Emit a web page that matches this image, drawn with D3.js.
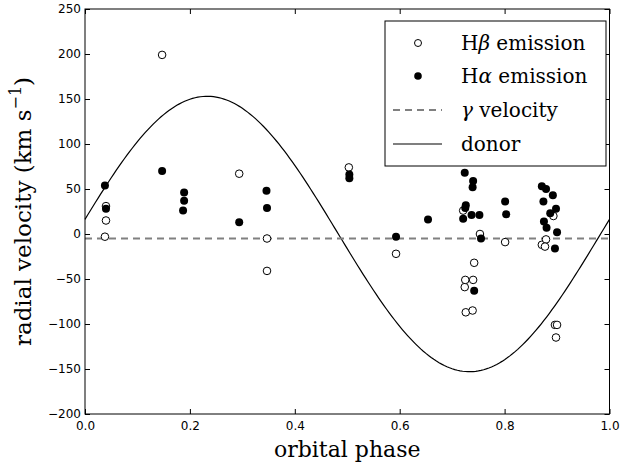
<!DOCTYPE html>
<html>
<head>
<meta charset="utf-8">
<script src="https://cdn.jsdelivr.net/npm/d3@7"></script>
<style>
  body { margin: 0; background: #fff; }
  .tick text { font-family: "DejaVu Sans", sans-serif; font-size: 12px; fill: #000; }
  .serif { font-family: "DejaVu Serif", "Liberation Serif", serif; }
</style>
</head>
<body>
<script>
// H-beta emission measurements: [phase, velocity km/s]
var hbPhase = [0.038, 0.040, 0.040, 0.147, 0.294, 0.347, 0.347, 0.503, 0.593,
  0.721, 0.724, 0.725, 0.740, 0.742, 0.726, 0.739, 0.753, 0.801,
  0.871, 0.879, 0.877, 0.893, 0.896, 0.900, 0.898]
var hbVel = [-3, 15, 31, 199, 67, -5, -41, 74, -22,
  26, -59, -51, -51, -32, -87, -85, 0, -9,
  -12, -6, -14, 20, -101, -101, -115]

// H-alpha emission measurements
var haPhase = [0.038, 0.040, 0.147, 0.189, 0.189, 0.187, 0.294, 0.346, 0.347,
  0.504, 0.504, 0.593, 0.654,
  0.724, 0.740, 0.739, 0.726, 0.725, 0.721, 0.737, 0.752, 0.755, 0.742,
  0.801, 0.803,
  0.871, 0.879, 0.892, 0.874, 0.898, 0.887, 0.875, 0.880, 0.900, 0.896]
var haVel = [54, 28, 70, 46, 37, 26, 13, 48, 29,
  66, 62, -3, 16,
  68, 59, 52, 32, 29, 17, 21, 21, -5, -63,
  36, 22,
  53, 50, 43, 36, 28, 23, 14, 7, 2, -16]

// systemic velocity (dashed) and donor orbit parameters
var gammaVel = -5
var donorK = 153
var donorOffset = 0
var donorPhase0 = -0.017

var xTicks = [0, 0.2, 0.4, 0.6, 0.8, 1.0]
var yTicks = [-200, -150, -100, -50, 0, 50, 100, 150, 200, 250]

var width = 621
var height = 465
var margin = {left: 85, top: 9, right: 11.5, bottom: 51}
var w = width - margin.left - margin.right
var h = height - margin.top - margin.bottom

var svg = d3.select("body")
  .append("svg")
    .attr("width", width)
    .attr("height", height)

var g = svg.append("g")
  .attr("transform", "translate(" + margin.left + "," + margin.top + ")")

var x = d3.scaleLinear().domain([0, 1]).range([0, w])
var y = d3.scaleLinear().domain([-200, 250]).range([h, 0])

// donor curve
var donorPts = d3.range(0, 1.0001, 0.005).map(function(p) {
  return [p, donorOffset + donorK * Math.sin(2 * Math.PI * (p - donorPhase0))]
})

g.append("path")
  .datum(donorPts)
  .attr("fill", "none")
  .attr("stroke", "#000")
  .attr("stroke-width", 1.2)
  .attr("d", d3.line().x(function(d){ return x(d[0]) }).y(function(d){ return y(d[1]) }))

// gamma velocity
g.append("line")
  .attr("x1", x(0)).attr("x2", x(1))
  .attr("y1", y(gammaVel)).attr("y2", y(gammaVel))
  .attr("stroke", "#808080")
  .attr("stroke-width", 2)
  .attr("stroke-dasharray", "7,5")

var ha = haPhase.map(function(p, i){ return [p, haVel[i]] })
var hb = hbPhase.map(function(p, i){ return [p, hbVel[i]] })

g.selectAll(".hb")
  .data(hb)
  .enter()
  .append("circle")
    .attr("class", "hb")
    .attr("cx", function(d){ return x(d[0]) })
    .attr("cy", function(d){ return y(d[1]) })
    .attr("r", 3.8)
    .attr("fill", "#fff")
    .attr("stroke", "#000")
    .attr("stroke-width", 1)

g.selectAll(".ha")
  .data(ha)
  .enter()
  .append("circle")
    .attr("class", "ha")
    .attr("cx", function(d){ return x(d[0]) })
    .attr("cy", function(d){ return y(d[1]) })
    .attr("r", 4)
    .attr("fill", "#000")

// axes, ticks inside on all four sides
var fmtX = d3.format(".1f")
g.append("g")
  .attr("transform", "translate(0," + h + ")")
  .call(d3.axisBottom(x).tickValues(xTicks).tickFormat(fmtX).tickSizeInner(-5).tickSizeOuter(0).tickPadding(7))
g.append("g")
  .call(d3.axisTop(x).tickValues(xTicks).tickFormat("").tickSizeInner(-5).tickSizeOuter(0))
g.append("g")
  .call(d3.axisLeft(y).tickValues(yTicks).tickSizeInner(-5).tickSizeOuter(0).tickPadding(4))
g.append("g")
  .attr("transform", "translate(" + w + ",0)")
  .call(d3.axisRight(y).tickValues(yTicks).tickFormat("").tickSizeInner(-5).tickSizeOuter(0))

g.selectAll(".domain").remove()
g.selectAll(".tick line").attr("stroke", "#000")

g.append("rect")
  .attr("width", w).attr("height", h)
  .attr("fill", "none")
  .attr("stroke", "#000")
  .attr("stroke-width", 1)

// axis labels
svg.append("text")
  .attr("class", "serif")
  .attr("x", margin.left + w / 2)
  .attr("y", 457)
  .attr("text-anchor", "middle")
  .style("font-size", "22px")
  .text("orbital phase")

var yl = svg.append("text")
  .attr("class", "serif")
  .attr("transform", "translate(31," + (margin.top + h / 2) + ") rotate(-90)")
  .attr("text-anchor", "middle")
  .style("font-size", "23px")
yl.append("tspan").text("radial velocity (km s")
yl.append("tspan").attr("dy", -10).style("font-size", "16px").text("\u22121")
yl.append("tspan").attr("dy", 10).text(")")

// legend
var leg = svg.append("g")
leg.append("rect")
  .attr("x", 385).attr("y", 21)
  .attr("width", 221).attr("height", 145)
  .attr("fill", "#fff")
  .attr("stroke", "#000")
  .attr("stroke-width", 1)

var rows = [43, 76, 110, 144]
leg.append("circle").attr("cx", 418).attr("cy", rows[0]).attr("r", 3.5)
  .attr("fill", "#fff").attr("stroke", "#000")
leg.append("circle").attr("cx", 418).attr("cy", rows[1]).attr("r", 3.8)
  .attr("fill", "#000")
leg.append("line").attr("x1", 393).attr("x2", 442).attr("y1", rows[2]).attr("y2", rows[2])
  .attr("stroke", "#808080").attr("stroke-width", 2).attr("stroke-dasharray", "7,5")
leg.append("line").attr("x1", 393).attr("x2", 442).attr("y1", rows[3]).attr("y2", rows[3])
  .attr("stroke", "#000").attr("stroke-width", 1.2)

function legText(yy, parts) {
  var t = leg.append("text")
    .attr("class", "serif")
    .attr("x", 461).attr("y", yy + 7)
    .style("font-size", "20px")
  parts.forEach(function(p) {
    t.append("tspan").style("font-style", p[1] ? "italic" : "normal").text(p[0])
  })
}
legText(rows[0], [["H", 0], ["\u03B2", 1], [" emission", 0]])
legText(rows[1], [["H", 0], ["\u03B1", 1], [" emission", 0]])
legText(rows[2], [["\u03B3", 1], [" velocity", 0]])
legText(rows[3], [["donor", 0]])
</script>
</body>
</html>
